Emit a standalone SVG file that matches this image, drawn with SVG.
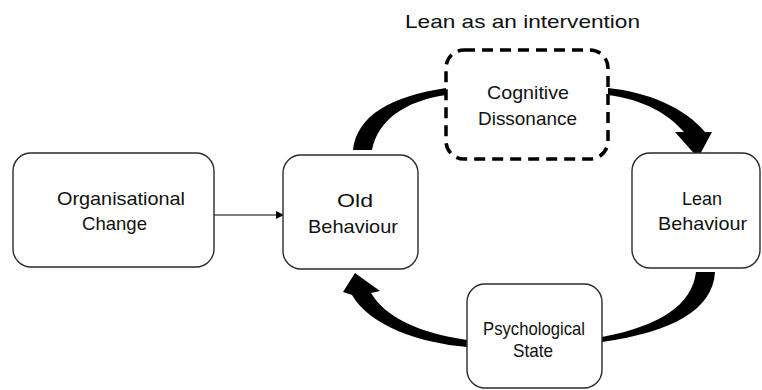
<svg xmlns="http://www.w3.org/2000/svg" width="762" height="390" viewBox="0 0 762 390">
<defs>
<style>
.box{fill:#fff;stroke:#2b2b2b;stroke-width:1.4}
.dash{fill:#fff;stroke:#000;stroke-width:3.5;stroke-dasharray:11 7}
text{font-family:"Liberation Sans",Arial,sans-serif;font-size:19px;fill:#111;text-anchor:middle}
.arr{fill:#000;stroke:none}
</style>
<marker id="ah" markerWidth="8" markerHeight="8" refX="7" refY="4" orient="auto" markerUnits="userSpaceOnUse">
<path d="M0,0 L8,4 L0,8 Z" fill="#000"/>
</marker>
</defs>
<rect width="762" height="390" fill="#fff"/>
<text id="title" x="522.5" y="28" font-size="21" textLength="235" lengthAdjust="spacingAndGlyphs">Lean as an intervention</text>

<g id="connectors">
<line x1="214" y1="215" x2="283" y2="215" stroke="#000" stroke-width="1" marker-end="url(#ah)"/>
<path class="arr" d="M353,150 C357,115 392,96 446,88 L446,95 C405,101 378,120 372,150 Z"/>
<path class="arr" d="M608,88 C648,92 685,108 705,132 L712,132 L698,158 L675,132 L684,132 C668,114 645,100 608,95 Z"/>
<path class="arr" d="M696,272 L715,272 C713,310 672,332 602,342 L602,337 C660,326 692,305 696,272 Z"/>
<path class="arr" d="M467,340 C420,333 386,318 371,293 L380,291 L355,273 L343,292 L352,295 C370,326 420,343 467,347 Z"/>
</g>

<g id="org">
<rect class="box" x="13" y="153" width="201" height="114" rx="18"/>
<text x="121" y="205" textLength="128" lengthAdjust="spacingAndGlyphs">Organisational</text>
<text x="114.5" y="230" textLength="65" lengthAdjust="spacingAndGlyphs">Change</text>
</g>

<g id="old">
<rect class="box" x="283" y="155" width="135" height="114" rx="18"/>
<text x="355" y="207" textLength="36" lengthAdjust="spacingAndGlyphs">Old</text>
<text x="353" y="233" textLength="90" lengthAdjust="spacingAndGlyphs">Behaviour</text>
</g>

<g id="dissonance">
<rect class="dash" x="446" y="50" width="162" height="109" rx="18"/>
<text x="528" y="99" textLength="82" lengthAdjust="spacingAndGlyphs">Cognitive</text>
<text x="527.5" y="125" textLength="99" lengthAdjust="spacingAndGlyphs">Dissonance</text>
</g>

<g id="lean">
<rect class="box" x="632" y="153" width="128" height="115" rx="18"/>
<text x="702" y="205" textLength="40" lengthAdjust="spacingAndGlyphs">Lean</text>
<text x="702.5" y="230" textLength="89" lengthAdjust="spacingAndGlyphs">Behaviour</text>
</g>

<g id="psych">
<rect class="box" x="467" y="284" width="135" height="104" rx="18"/>
<text x="534" y="335" font-size="18" textLength="102" lengthAdjust="spacingAndGlyphs">Psychological</text>
<text x="533" y="357" font-size="18" textLength="40" lengthAdjust="spacingAndGlyphs">State</text>
</g>
</svg>
